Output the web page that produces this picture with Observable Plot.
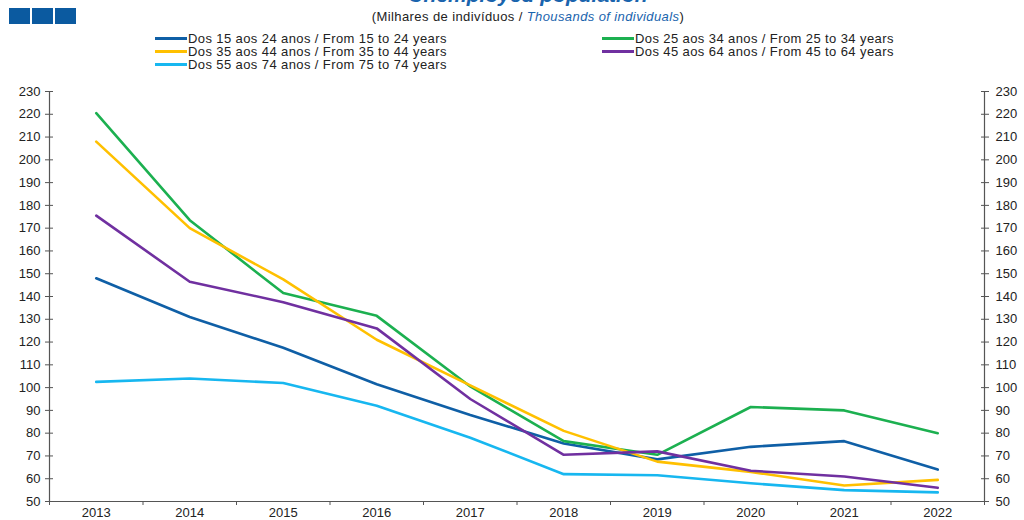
<!DOCTYPE html>
<html><head><meta charset="utf-8">
<script src="https://cdn.jsdelivr.net/npm/d3@7"></script>
<script src="https://cdn.jsdelivr.net/npm/@observablehq/plot@0.6"></script>
<style>
body{margin:0;background:#fff;font-family:"Liberation Sans",Arial,sans-serif;}
#wrap{position:relative;width:1024px;height:520px;overflow:hidden;}
#title{position:absolute;top:-17px;left:0;width:1056px;text-align:center;font:italic bold 21px "Liberation Sans",Arial,sans-serif;color:#1a64ad;}
.sq{position:absolute;top:8px;width:21px;height:16px;background:#0b5aa0;}
#sub{position:absolute;top:9px;left:0;width:1056px;text-align:center;font-size:13px;letter-spacing:0.4px;color:#222;}
#sub i{color:#1a64ad;}
.leg{position:absolute;font-size:13px;letter-spacing:0.4px;color:#222;white-space:nowrap;line-height:13px;}
.leg span{display:inline-block;width:32px;height:3px;vertical-align:middle;margin-right:1px;position:relative;top:-1px;}
#chart{position:absolute;top:80px;left:0;}
</style></head>
<body><div id="wrap">
<div id="title">Unemployed population</div>
<div class="sq" style="left:9px"></div><div class="sq" style="left:32px"></div><div class="sq" style="left:55px"></div>
<div id="sub">(Milhares de indivíduos / <i>Thousands of individuals</i>)</div>
<div id="legend"></div>
<div id="chart"></div>
</div>
<script>
const years = [2013,2014,2015,2016,2017,2018,2019,2020,2021,2022];
const seriesNames = [
  "Dos 15 aos 24 anos / From 15 to 24 years",
  "Dos 25 aos 34 anos / From 25 to 34 years",
  "Dos 35 aos 44 anos / From 35 to 44 years",
  "Dos 45 aos 64 anos / From 45 to 64 years",
  "Dos 55 aos 74 anos / From 75 to 74 years"
];
const colors = ["#0f5fa6","#1cb050","#ffc000","#7030a0","#17b7f0"];
const s15_24 = [148,131,117.5,101.5,88,75.5,68.5,74,76.5,64];
const s25_34 = [220.5,173.5,141.5,131.5,100.5,76.5,70.5,91.5,90,80];
const s35_44 = [208,170,147.5,121,101,81,67.5,63,57,59.5];
const s45_64 = [175.5,146.5,137.5,126,95,70.5,72,63.5,61,56];
const s55_74 = [102.5,104,102,92,78,62,61.5,58,55,54];
const yTicks = d3.range(50,231,10);
const allSeries = [s15_24,s25_34,s35_44,s45_64,s55_74];

// legend
const legPos = [[155,32],[602,32],[155,45],[602,45],[155,58]];
const legEl = document.getElementById("legend");
seriesNames.forEach((n,i)=>{
  const d = document.createElement("div");
  d.className="leg"; d.style.left=legPos[i][0]+"px"; d.style.top=legPos[i][1]+"px";
  d.innerHTML = `<span style="background:${colors[i]}"></span>${n}`;
  legEl.appendChild(d);
});

const data = [];
allSeries.forEach((vals,i)=>vals.forEach((v,j)=>data.push({year:years[j],value:v,series:seriesNames[i]})));

const xEdges = [years[0]-0.5, ...years.map(y=>y+0.5)];
const chart = Plot.plot({
  width:1024, height:440,
  marginTop:11, marginBottom:19, marginLeft:49, marginRight:40,
  style:{fontFamily:"Liberation Sans, Arial, sans-serif", fontSize:"13px", color:"#222"},
  x:{domain:[xEdges[0], xEdges[xEdges.length-1]], axis:null},
  y:{domain:[50,230], axis:null},
  color:{domain:seriesNames, range:colors},
  marks:[
    Plot.axisY({ticks:yTicks, anchor:"left", tickSize:4, tickPadding:5, label:null, stroke:"#555", fontSize:13}),
    Plot.axisY({ticks:yTicks, anchor:"left", tickSize:-4, tickFormat:()=>"", label:null, stroke:"#555"}),
    Plot.axisY({ticks:yTicks, anchor:"right", tickSize:4, tickPadding:7, label:null, stroke:"#555", fontSize:13}),
    Plot.axisY({ticks:yTicks, anchor:"right", tickSize:-4, tickFormat:()=>"", label:null, stroke:"#555"}),
    Plot.axisX({ticks:xEdges, tickSize:4, tickFormat:()=>"", label:null, stroke:"#555"}),
    Plot.axisX({ticks:years, tickSize:0, tickPadding:6, tickFormat:d=>String(d), label:null, fontSize:13}),
    Plot.ruleX([xEdges[0], xEdges[xEdges.length-1]], {stroke:"#555", strokeWidth:1.2}),
    Plot.ruleY([50], {stroke:"#555", strokeWidth:1.2}),
    Plot.line(data, {x:"year", y:"value", stroke:"series", strokeWidth:2.6})
  ]
});
document.getElementById("chart").appendChild(chart);
</script>
</body></html>
